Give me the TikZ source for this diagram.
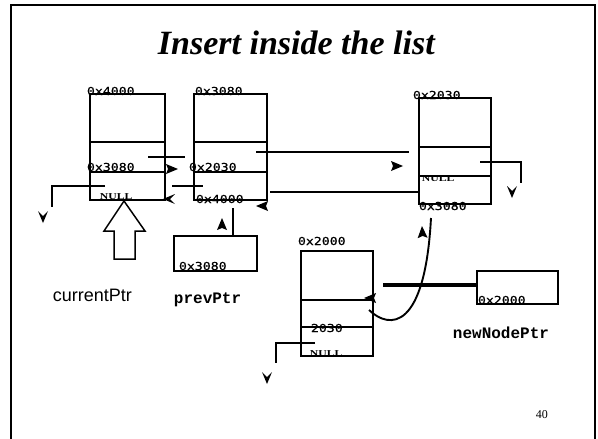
\documentclass[tikz,border=0pt]{standalone}
\usepackage{fontspec}
\setmainfont{Liberation Serif}
\newfontfamily\adrfnt[FakeStretch=1.2,FakeBold=0.6]{DejaVu Sans Mono}
\newfontfamily\nulfnt[FakeStretch=1.3]{Liberation Serif}
\newfontfamily\ptrfnt{Liberation Mono}
\newfontfamily\arialfnt{Liberation Sans}
\begin{document}
\begin{tikzpicture}[x=1pt,y=-1pt,
  line width=1.9pt,
  rec/.style={draw, rectangle, inner sep=0pt},
  lbl/.style={anchor=base west, inner sep=0pt},
  adr/.style={lbl, font=\adrfnt\fontsize{11}{11}\selectfont},
  nul/.style={lbl, font=\nulfnt\bfseries\fontsize{9}{9}\selectfont},
  ptr/.style={lbl, font=\ptrfnt\bfseries\fontsize{16}{16}\selectfont},
  tip/.pic={\fill[line width=0.5pt] (0,0) -- (-12,-5) -- (-10,0) -- (-12,5) -- cycle;},
  stip/.pic={\fill[line width=0.5pt] (0,0) -- (-12,-5) -- (-7,0) -- (-12,5) -- cycle;}
]
\useasboundingbox (0,0) rectangle (598,439);
% slide frame
\draw[line width=1.6pt] (11,446) -- (11,5) -- (595,5) -- (595,446);
% title
\node[lbl, font=\bfseries\itshape\fontsize{34}{34}\selectfont] (title) at (157,54) {Insert inside the list};
% records
\node[rec, minimum width=75, minimum height=106] (n1) at (127.5,147) {};
\node[rec, minimum width=73, minimum height=106] (n2) at (230.5,147) {};
\node[rec, minimum width=72, minimum height=106] (n3) at (455,151) {};
\node[rec, minimum width=72, minimum height=105] (n4) at (337,303.5) {};
\node[rec, minimum width=83, minimum height=35] (pbox) at (215.5,253.5) {};
\node[rec, minimum width=81, minimum height=33] (nbox) at (517.5,287.5) {};
% dividers
\draw (90,142) -- (165,142) (90,172) -- (165,172);
\draw (194,142) -- (267,142) (194,172) -- (267,172);
\draw (419,147) -- (491,147) (419,176) -- (491,176);
\draw (301,300) -- (373,300) (301,327) -- (373,327);
% labels
\node[adr] (l1) at (86,95) {0x4000};
\node[adr] (l2) at (194,95) {0x3080};
\node[adr] (l3) at (86,171) {0x3080};
\node[nul] (l4) at (99,199) {NULL};
\node[adr] (l5) at (188,171) {0x2030};
\node[adr] (l6) at (195,203) {0x4000};
\node[adr] (l7) at (412,99) {0x2030};
\node[nul] (l8) at (421,181) {NULL};
\node[adr] (l9) at (418,210) {0x3080};
\node[adr] (l10) at (178,270) {0x3080};
\node[ptr] (l11) at (173,303) {prevPtr};
\node[adr] (l12) at (297,245) {0x2000};
\node[adr] (l13) at (310,332) {2030};
\node[nul] (l14) at (309,356) {NULL};
\node[adr] (l15) at (477,304) {0x2000};
\node[ptr] (l16) at (452,338) {newNodePtr};
\node[lbl, font=\arialfnt\fontsize{18}{18}\selectfont] (l17) at (52,301) {currentPtr};
\node[lbl, font=\fontsize{12}{12}\selectfont] (l18) at (535,418) {40};
% pointer lines
\draw (148,157) -- (185,157);
\draw (105,186) -- (52,186) -- (52,207);
\draw (172,186) -- (203,186);
\draw (233,208) -- (pbox.north -| 233,0);
\draw (256,152) -- (409,152);
\draw (270,192) -- (n3.west |- 0,192);
\draw (480,162) -- (521,162) -- (521,183);
\draw (315,343) -- (276,343) -- (276,363);
\draw[line width=3.8pt] (383,285) -- (nbox.west |- 0,285);
\draw (369,310) .. controls (390,330) and (425,330) .. (431,218);
% arrow heads
\path (178,169) pic {tip};
\path (163,199) pic[rotate=180] {stip};
\path (43,223) pic[rotate=-90] {stip};
\path (256,206) pic[rotate=180] {tip};
\path (403,166) pic {tip};
\path (222,218) pic[rotate=90] {tip};
\path (512,198) pic[rotate=-90] {stip};
\path (422,226) pic[rotate=93] {tip};
\path (364,298) pic[rotate=180] {tip};
\path (267,384) pic[rotate=-90] {stip};
% hollow arrow under current record
\draw[line width=1.5pt] (124,201) -- (145,231) -- (135,231) -- (135,259) -- (114,259) -- (114,231) -- (104,231) -- cycle;
\end{tikzpicture}
\end{document}
